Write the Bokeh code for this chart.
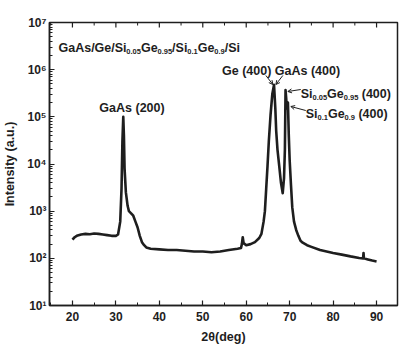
from bokeh.plotting import figure
from bokeh.models import Label, Arrow, OpenHead, FixedTicker
from bokeh.embed import file_html
from bokeh.resources import INLINE

# ---- data ----
two_theta = [20.0, 20.5, 21.0, 22.0, 23.0, 24.0, 25.0, 26.0, 27.0, 28.0, 29.0, 30.0, 30.5,
             31.0, 31.3, 31.5, 31.7, 31.85, 32.0, 32.3, 32.7, 33.0, 33.5, 34.0, 34.5, 35.0,
             35.5, 36.0, 36.5, 37.0, 38.0, 40.0, 42.0, 44.0, 46.0, 48.0, 50.0, 52.0, 54.0,
             56.0, 58.0, 58.8, 59.0, 59.2, 59.4, 60.0, 61.0, 62.0, 63.0, 63.5, 64.0, 64.3,
             64.6, 64.9, 65.2, 65.6, 66.0, 66.4, 66.7, 66.9, 67.2, 67.6, 68.0, 68.4, 68.7,
             68.9, 69.05, 69.2, 69.35, 69.6, 69.8, 70.0, 70.3, 70.6, 71.0, 71.5, 72.0, 72.5,
             73.0, 74.0, 75.0, 77.0, 80.0, 82.0, 84.0, 86.0, 86.9, 87.0, 87.1, 88.0, 89.0, 90.0]
intensity = [250, 280, 300, 320, 330, 325, 335, 330, 320, 310, 300, 300, 320,
             600, 3000, 30000, 100000, 40000, 8000, 2500, 1300, 1000, 900, 800, 600, 450,
             300, 220, 190, 170, 160, 155, 150, 150, 145, 140, 140, 135, 140,
             150, 160, 165, 200, 280, 210, 190, 200, 220, 270, 330, 600, 1000,
             3000, 9000, 30000, 110000, 300000, 480000, 150000, 50000, 20000, 9000, 4000, 2400, 5000,
             20000, 370000, 250000, 150000, 200000, 40000, 12000, 3600, 1200, 600, 400, 300, 235,
             215, 190, 175, 150, 130, 120, 110, 102, 100, 130, 100, 95, 90, 86]

x_ticks = [20, 30, 40, 50, 60, 70, 80, 90]
x_minor = [15, 25, 35, 45, 55, 65, 75, 85, 95]
y_ticks = [10, 100, 1000, 10000, 100000, 1000000, 10000000]
y_tick_labels = ["10\u00b9", "10\u00b2", "10\u00b3", "10\u2074", "10\u2075", "10\u2076", "10\u2077"]

X0, X1 = 14.72, 94.82
Y0, Y1 = 10, 1e7

FONT = "Liberation Sans"
INK = "#1e1e1e"

p = figure(width=405, height=349, x_range=(X0, X1), y_range=(Y0, Y1), y_axis_type="log",
           output_backend="svg", toolbar_location=None,
           min_border_left=48, min_border_right=8, min_border_top=22, min_border_bottom=44)
p.xgrid.visible = False
p.ygrid.visible = False
p.outline_line_color = INK
p.outline_line_width = 1.5
p.background_fill_color = "white"
p.border_fill_color = "white"

p.line(two_theta, intensity, line_color=INK, line_width=2.6, line_join="round")

# axes
minor_y = [m * 10 ** k for k in range(1, 7) for m in range(2, 10)]
p.xaxis.ticker = FixedTicker(ticks=x_ticks, minor_ticks=x_minor)
p.yaxis.ticker = FixedTicker(ticks=y_ticks, minor_ticks=minor_y)
p.yaxis.major_label_overrides = {t: s for t, s in zip(y_ticks, y_tick_labels)}

for ax in (p.xaxis[0], p.yaxis[0]):
    ax.axis_line_color = INK
    ax.axis_line_width = 1.5
    ax.major_tick_line_color = INK
    ax.minor_tick_line_color = INK
    ax.major_tick_line_width = 1.2
    ax.major_tick_in = 5
    ax.major_tick_out = 0
    ax.minor_tick_in = 3
    ax.minor_tick_out = 0
    ax.major_label_text_font = FONT
    ax.major_label_text_font_style = "bold"
    ax.major_label_text_font_size = "12px"
    ax.major_label_text_color = INK
    ax.axis_label_text_font = FONT
    ax.axis_label_text_font_style = "bold"
    ax.axis_label_text_font_size = "12.5px"
    ax.axis_label_text_color = INK

p.xaxis.axis_label = "2\u03b8(deg)"
p.xaxis.major_label_standoff = 6
p.xaxis.axis_label_standoff = 6
p.yaxis.axis_label = "Intensity (a.u.)"
p.yaxis.major_label_standoff = 3
p.yaxis.axis_label_standoff = 7

# inward ticks along the top edge (same tick positions as the bottom axis)
DEC_PX = (305 - 22) / 6.0
p.segment(x0=x_ticks, y0=[Y1] * len(x_ticks), x1=x_ticks,
          y1=[Y1 / 10 ** (5 / DEC_PX)] * len(x_ticks), line_color=INK, line_width=1.2)
p.segment(x0=x_minor, y0=[Y1] * len(x_minor), x1=x_minor,
          y1=[Y1 / 10 ** (3 / DEC_PX)] * len(x_minor), line_color=INK, line_width=1)

# ---- annotation placement helpers (pixel of reference -> data) ----
FL, FR, FT, FB = 48, 397, 22, 305

def dx(px):
    return X0 + (px - FL) / (FR - FL) * (X1 - X0)

def dy(py):
    return 10 ** (1 + (FB - py) / (FB - FT) * 6)

W = {"G": 778, "a": 556, "A": 722, "s": 556, "/": 278, "e": 556, "S": 667, "i": 278,
     ".": 278, "(": 333, ")": 333, " ": 278}

def width(t, size):
    return sum(W.get(c, 556) for c in t) * size / 1000.0

def place(pieces, px, py):
    for t, size, off in pieces:
        lead = len(t) - len(t.lstrip(" "))
        px += width(" " * lead, size)
        t = t.lstrip(" ")
        p.add_layout(Label(x=dx(px), y=dy(py + off), text=t, text_font=FONT,
                           text_font_style="bold", text_font_size=f"{size}px",
                           text_color=INK, text_baseline="alphabetic", text_align="left"))
        px += width(t, size)

M, S = 12.5, 7.5
place([("GaAs/Ge/Si", M, 0), ("0.05", S, 4), ("Ge", M, 0), ("0.95", S, 4), ("/Si", M, 0),
       ("0.1", S, 4), ("Ge", M, 0), ("0.9", S, 4), ("/Si", M, 0)], 57, 47)
place([("GaAs (200)", M, 0)], 98, 107)
place([("Ge (400) GaAs (400)", M, 0)], 221, 70)
place([("Si", M, 0), ("0.05", S, 4), ("Ge", M, 0), ("0.95", S, 4), (" (400)", M, 0)], 300, 93)
place([("Si", M, 0), ("0.1", S, 4), ("Ge", M, 0), ("0.9", S, 4), (" (400)", M, 0)], 305, 113)

for (x1, y1, x2, y2) in [(265, 75, 272, 84), (282, 75, 275, 84), (300, 89, 287, 91), (305, 110, 290, 106)]:
    p.add_layout(Arrow(x_start=dx(x1), y_start=dy(y1), x_end=dx(x2), y_end=dy(y2),
                       line_color=INK, line_width=1,
                       end=OpenHead(size=4, line_color=INK, line_width=1)))

open("out.html", "w").write(file_html(p, INLINE))
